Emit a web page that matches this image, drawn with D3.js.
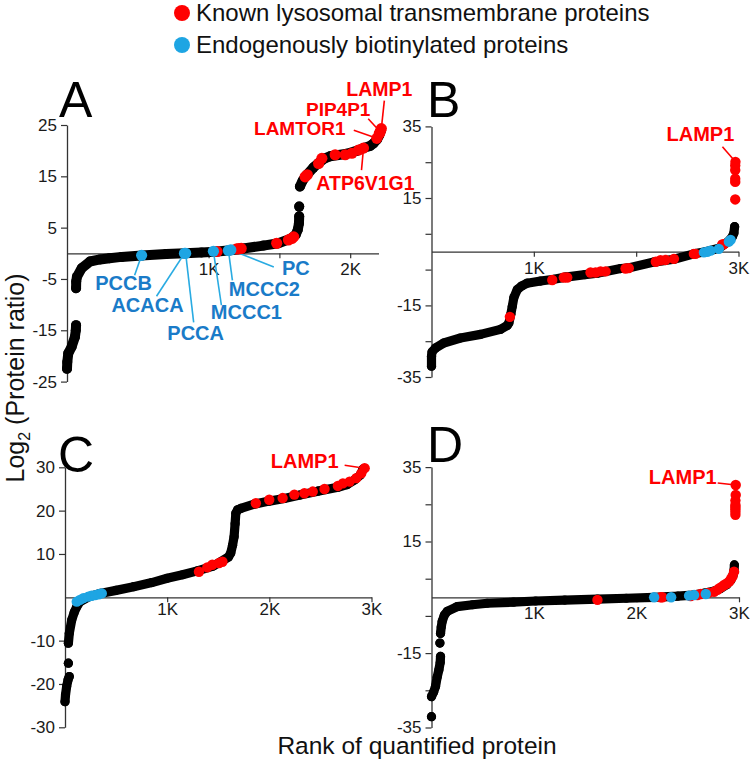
<!DOCTYPE html>
<html><head><meta charset="utf-8">
<script src="https://cdn.jsdelivr.net/npm/d3@7"></script>
<style>
body{margin:0;background:#fff}
svg{display:block}
text{font-family:Arial,"Liberation Sans",Helvetica,sans-serif}
</style>
</head><body>
<svg id="chart" width="750" height="765"></svg>
<script>
// ---------------- DATA (rank, log2 ratio) ----------------
// Panel A
const curveA = [
  [[0,-22.5],[2,-21.2],[9,-19.5],[33,-18.2],[56,-16.3],[62,-15],[64,-14.0]],
  [[64,-6.8],[65,-5.5],[70,-4.6],[104,-2.9],[162,-1.6],[233,-1.2],[300,-0.95],[386,-0.7],[527,-0.45],[700,-0.15],[834,0],[950,0.15],[1046,0.3],[1152,0.6],[1246,0.95],[1387,1.5],[1493,1.95],[1576,2.8],[1615,3.6],[1630,4.6],[1638,5.8],[1640,7.2]],
  [[1640,9.1]],
  [[1645,13.0],[1665,14.2],[1694,15.3],[1740,16.7],[1777,17.6],[1820,18.5],[1859,18.9],[1977,19.4],[2050,20.0],[2094,20.5],[2140,20.9],[2164,21.4],[2190,22.2],[2205,23.0],[2218,24.0]]
];
const redA = [[1060,0.35],[1199,0.85],[1215,0.9],[1230,0.95],[1481,1.95],[1564,2.6],[1588,2.9],[1601,3.2],[1682,14.9],[1697,15.3],[1777,17.5],[1800,18.5],[1894,19.2],[1965,19.2],[2012,19.5],[2059,20.1],[2094,20.5],[2188,22.4],[2205,23.3],[2212,23.7],[2220,24.3]];
const blueA = [[527,-0.4],[830,0],[838,0],[1034,0.4],[1140,0.55],[1157,0.65]];
const xTicksA = [500,1000,1500,2000];
const xTickLabelsA = ["","1K","","2K"];
const yTicksA = [25,15,5,-5,-15,-25];
const yTickLabelsA = ["25","15","5","-5","-15","-25"];

// Panel B
const curveB = [
  [[0,-32.0],[0,-29.2],[5,-28],[39,-26.9],[120,-25.5],[283,-24.1],[479,-23.1],[674,-21.7],[740,-20.6],[756,-19.9],[775,-17.5],[789,-15.3],[805,-12.8],[838,-10.6],[880,-9.6],[935,-8.8],[1066,-8.2],[1196,-7.7],[1310,-7.1],[1500,-6.4],[1620,-6.0],[1848,-4.7],[1913,-4.6],[2173,-2.9],[2369,-2.1],[2564,-0.6],[2678,0],[2809,0.95],[2906,3.0],[2940,4.2],[2955,5.2],[2962,7.0]]
];
const redB = [[766,-18.2],[1180,-7.9],[1293,-7.2],[1326,-7.2],[1554,-5.8],[1603,-5.8],[1652,-5.5],[1701,-5.5],[1896,-4.7],[1928,-4.6],[2192,-2.8],[2238,-2.4],[2287,-2.3],[2369,-2.0],[2564,-0.6],[2580,-0.6],[2841,2.0],[2857,2.1],[2968,14.6],[2968,19.5],[2968,20.4],[2968,22.8],[2968,24.1],[2970,25.1]];
const blueB = [[2662,-0.2],[2695,0],[2727,0.3],[2808,0.8],[2906,2.8],[2923,3.3]];
const xTicksB = [1000,2000,3000];
const xTickLabelsB = ["1K","","3K"];
const yTicksB = [35,25,15,5,-5,-15,-25,-35];
const yTickLabelsB = ["35","","15","","","-15","","-35"];

// Panel C
const curveC = [
  [[0,-24.1],[5,-22.5],[16,-20.6],[30,-19.0],[42,-18.3]],
  [[33,-15.2]],
  [[33,-10.6],[42,-8.3],[66,-5.2],[90,-3.5],[115,-2.2],[147,-1.0],[230,0.1],[344,0.9],[500,1.6],[672,2.45],[850,3.4],[1000,4.4],[1150,5.2],[1295,6.1],[1450,7.2],[1524,8.2],[1600,9.3],[1622,10.2],[1640,12.0],[1655,14.0],[1665,17],[1672,19.4],[1690,20.2],[1721,20.5],[1852,21.5],[2000,22.2],[2147,22.8],[2300,23.6],[2475,24.5],[2672,25.4],[2760,26.0],[2836,27.1],[2890,28.2],[2918,29.6]]
];
const redC = [[1311,5.9],[1393,6.9],[1442,7.5],[1508,7.9],[1541,8.2],[1868,21.7],[1999,22.5],[2130,22.9],[2245,23.7],[2343,24.0],[2425,24.4],[2540,25.0],[2671,25.7],[2720,26.3],[2786,26.7],[2851,27.5],[2900,28.6],[2933,29.8]];
const blueC = [[115,-1.0],[147,-0.6],[180,-0.2],[229,0.15],[260,0.35],[295,0.5],[330,0.7],[360,0.9]];
const xTicksC = [1000,2000,3000];
const xTickLabelsC = ["1K","2K","3K"];
const yTicksC = [30,20,10,-10,-20,-30];
const yTickLabelsC = ["30","20","10","-10","-20","-30"];

// Panel D
const curveD = [
  [[0,-32.1]],
  [[0,-26.7],[20,-25.5],[39,-24.0],[55,-21.5],[72,-19.5],[85,-17.5],[88,-15.9]],
  [[82,-12.3]],
  [[88,-9.7],[95,-8],[104,-6.5],[125,-4.8],[153,-3.8],[251,-2.5],[400,-2.0],[544,-1.6],[800,-1.3],[1016,-1.0],[1300,-0.75],[1619,-0.5],[1900,-0.25],[2172,0],[2400,0.3],[2550,0.6],[2660,1.1],[2760,1.7],[2822,2.4],[2880,3.4],[2920,4.6],[2940,5.8],[2952,7.3],[2955,8.7]]
];
const redD = [[1619,-0.7],[2236,0],[2252,0],[2529,0.35],[2594,0.6],[2627,0.9],[2700,1.2],[2757,1.5],[2790,2.0],[2806,2.4],[2830,2.8],[2855,3.3],[2880,3.7],[2904,4.2],[2920,4.9],[2936,5.6],[2952,6.9],[2965,22.2],[2965,23.0],[2965,23.7],[2965,24.3],[2965,24.8],[2965,26.0],[2968,27.5],[2968,30.2]];
const blueD = [[2172,0],[2338,0],[2513,0.45],[2562,0.6],[2676,0.9]];
const xTicksD = [1000,2000,3000];
const xTickLabelsD = ["1K","2K","3K"];
const yTicksD = [35,25,15,5,-5,-15,-25,-35];
const yTickLabelsD = ["35","","15","","","-15","","-35"];

// Protein labels: text + which highlighted point it refers to
const labelNamesA = ["PCCB","ACACA","PCCA","MCCC1","MCCC2","PC","LAMP1","PIP4P1","LAMTOR1","ATP6V1G1"];
const legendLabels = ["Known lysosomal transmembrane proteins","Endogenously biotinylated proteins"];
const panelLetters = ["A","B","C","D"];
const xTitle = "Rank of quantified protein";

// ---------------- LAYOUT / STYLE ----------------
const RED = "#ff0000", BLUE = "#1ea5e3", BLUE_TXT = "#1a7bc8", BLUE_LINE = "#29abe2";
const svg = d3.select("#chart");

const panels = [
  {letter:panelLetters[0], curve:curveA, red:redA, blue:blueA, xd:[0,2200], xr:[67,378.5], yd:[-25,25], yr:[381.6,125],
   xt:xTicksA, xl:xTickLabelsA, yt:yTicksA, yl:yTickLabelsA, r:5, xPad:5, letterPos:[59,117],
   labels:[
     {name:labelNamesA[0], set:"blue", i:0, tx:-18, ty:27, lx:-7, ly:20},
     {name:labelNamesA[1], set:"blue", i:1, tx:-37, ty:51, lx:-28, ly:43},
     {name:labelNamesA[2], set:"blue", i:2, tx:10, ty:79, lx:8, ly:69},
     {name:labelNamesA[3], set:"blue", i:3, tx:33, ty:61, lx:8, ly:54},
     {name:labelNamesA[4], set:"blue", i:4, tx:36, ty:38, lx:4, ly:30},
     {name:labelNamesA[5], set:"blue", i:5, tx:65, ty:18, lx:43, ly:17},
     {name:labelNamesA[6], set:"red", i:20, tx:-2, ty:-40, lx:3, ly:-28, fs:19.5},
     {name:labelNamesA[7], set:"red", i:19, tx:-42, ty:-23, lx:-12, ly:-13, fs:19},
     {name:labelNamesA[8], set:"red", i:17, tx:-77, ty:-10, lx:-23, ly:-8, fs:19},
     {name:labelNamesA[9], set:"red", i:16, tx:2, ty:35, lx:-2, ly:22, fs:19.5}
   ]},
  {letter:panelLetters[1], curve:curveB, red:redB, blue:blueB, xd:[0,3000], xr:[431.5,738.5], yd:[-35,35], yr:[377,126.4],
   xt:xTicksB, xl:xTickLabelsB, yt:yTicksB, yl:yTickLabelsB, r:4.6, xPad:5, letterPos:[427,117],
   labels:[{name:"LAMP1", set:"red", i:23, tx:-35, ty:-28, lx:-13, ly:-15}]},
  {letter:panelLetters[2], curve:curveC, red:redC, blue:blueC, xd:[0,3000], xr:[65,371.5], yd:[-30,30], yr:[727.3,467.3],
   xt:xTicksC, xl:xTickLabelsC, yt:yTicksC, yl:yTickLabelsC, r:4.6, xPad:1, letterPos:[58,472],
   labels:[{name:"LAMP1", set:"red", i:17, tx:-60, ty:-7, lx:-20, ly:-3}]},
  {letter:panelLetters[3], curve:curveD, red:redD, blue:blueD, xd:[0,3000], xr:[431.5,739], yd:[-35,35], yr:[727.5,467.1],
   xt:xTicksD, xl:xTickLabelsD, yt:yTicksD, yl:yTickLabelsD, r:4.6, xPad:5, letterPos:[427,462],
   labels:[{name:"LAMP1", set:"red", i:24, tx:-53, ty:-8, lx:-18, ly:-2}]}
];

function styleAxis(sel){
  sel.selectAll(".domain").attr("stroke","#333").attr("stroke-width",1.3);
  sel.selectAll(".tick line").attr("stroke","#333").attr("stroke-width",1.2);
  sel.selectAll(".tick text").attr("fill","#1a1a1a").attr("font-size",17)
     .attr("font-family","Arial, 'Liberation Sans', sans-serif");
}

panels.forEach(p => {
  const x = d3.scaleLinear().domain(p.xd).range(p.xr);
  const y = d3.scaleLinear().domain(p.yd).range(p.yr);
  const g = svg.append("g");

  const ya = g.append("g").attr("transform",`translate(${p.xr[0]},0)`)
    .call(d3.axisLeft(y).tickValues(p.yt).tickFormat((d,i)=>p.yl[i]).tickSizeOuter(0).tickSizeInner(6).tickPadding(4));
  styleAxis(ya);
  const xa = g.append("g").attr("transform",`translate(0,${y(0)})`)
    .call(d3.axisBottom(x).tickValues(p.xt).tickFormat((d,i)=>p.xl[i]).tickSizeOuter(0).tickSizeInner(5).tickPadding(p.xPad));
  styleAxis(xa);

  const line = d3.line().x(d=>x(d[0])).y(d=>y(d[1]));
  p.curve.forEach(seg => {
    g.append("path").datum(seg).attr("d",line).attr("fill","none")
      .attr("stroke","#000").attr("stroke-width",p.r*2)
      .attr("stroke-linecap","round").attr("stroke-linejoin","round");
    g.selectAll(null).data(seg).join("circle")
      .attr("cx",d=>x(d[0])).attr("cy",d=>y(d[1])).attr("r",p.r).attr("fill","#000");
  });

  p.labels.forEach(l => {
    const pt = (l.set==="red"?p.red:p.blue)[l.i];
    const px = x(pt[0]), py = y(pt[1]);
    g.append("line").attr("x1",px+l.lx).attr("y1",py+l.ly).attr("x2",px).attr("y2",py)
      .attr("stroke", l.set==="red"?RED:BLUE_LINE).attr("stroke-width",1.6);
  });

  g.selectAll(null).data(p.red).join("circle")
    .attr("cx",d=>x(d[0])).attr("cy",d=>y(d[1])).attr("r",p.r+0.6).attr("fill",RED);
  g.selectAll(null).data(p.blue).join("circle")
    .attr("cx",d=>x(d[0])).attr("cy",d=>y(d[1])).attr("r",p.r+0.6).attr("fill",BLUE);

  p.labels.forEach(l => {
    const pt = (l.set==="red"?p.red:p.blue)[l.i];
    const px = x(pt[0]), py = y(pt[1]);
    g.append("text").attr("x",px+l.tx).attr("y",py+l.ty).attr("dy","0.36em")
      .attr("text-anchor","middle").attr("font-weight","bold").attr("font-size",l.fs||20)
      .attr("fill", l.set==="red"?RED:BLUE_TXT).text(l.name);
  });

  svg.append("text").attr("x",p.letterPos[0]).attr("y",p.letterPos[1])
    .attr("font-size",50).attr("fill","#000").text(p.letter);
});

// legend
const legColors = [RED, BLUE];
legendLabels.forEach((t,i) => {
  svg.append("circle").attr("cx",182).attr("cy",13+i*32).attr("r",8).attr("fill",legColors[i]);
  svg.append("text").attr("x",196).attr("y",21+i*32).attr("font-size",24).attr("fill","#111").text(t);
});

// axis titles
const yt = svg.append("text").attr("transform","translate(24,378) rotate(-90)")
  .attr("text-anchor","middle").attr("font-size",25).attr("fill","#111");
yt.append("tspan").text("Log");
yt.append("tspan").attr("font-size",16).attr("dy",6).text("2");
yt.append("tspan").attr("dy",-6).text(" (Protein ratio)");

svg.append("text").attr("x",417).attr("y",754).attr("text-anchor","middle")
  .attr("font-size",24.5).attr("fill","#111").text(xTitle);
</script>
</body></html>
